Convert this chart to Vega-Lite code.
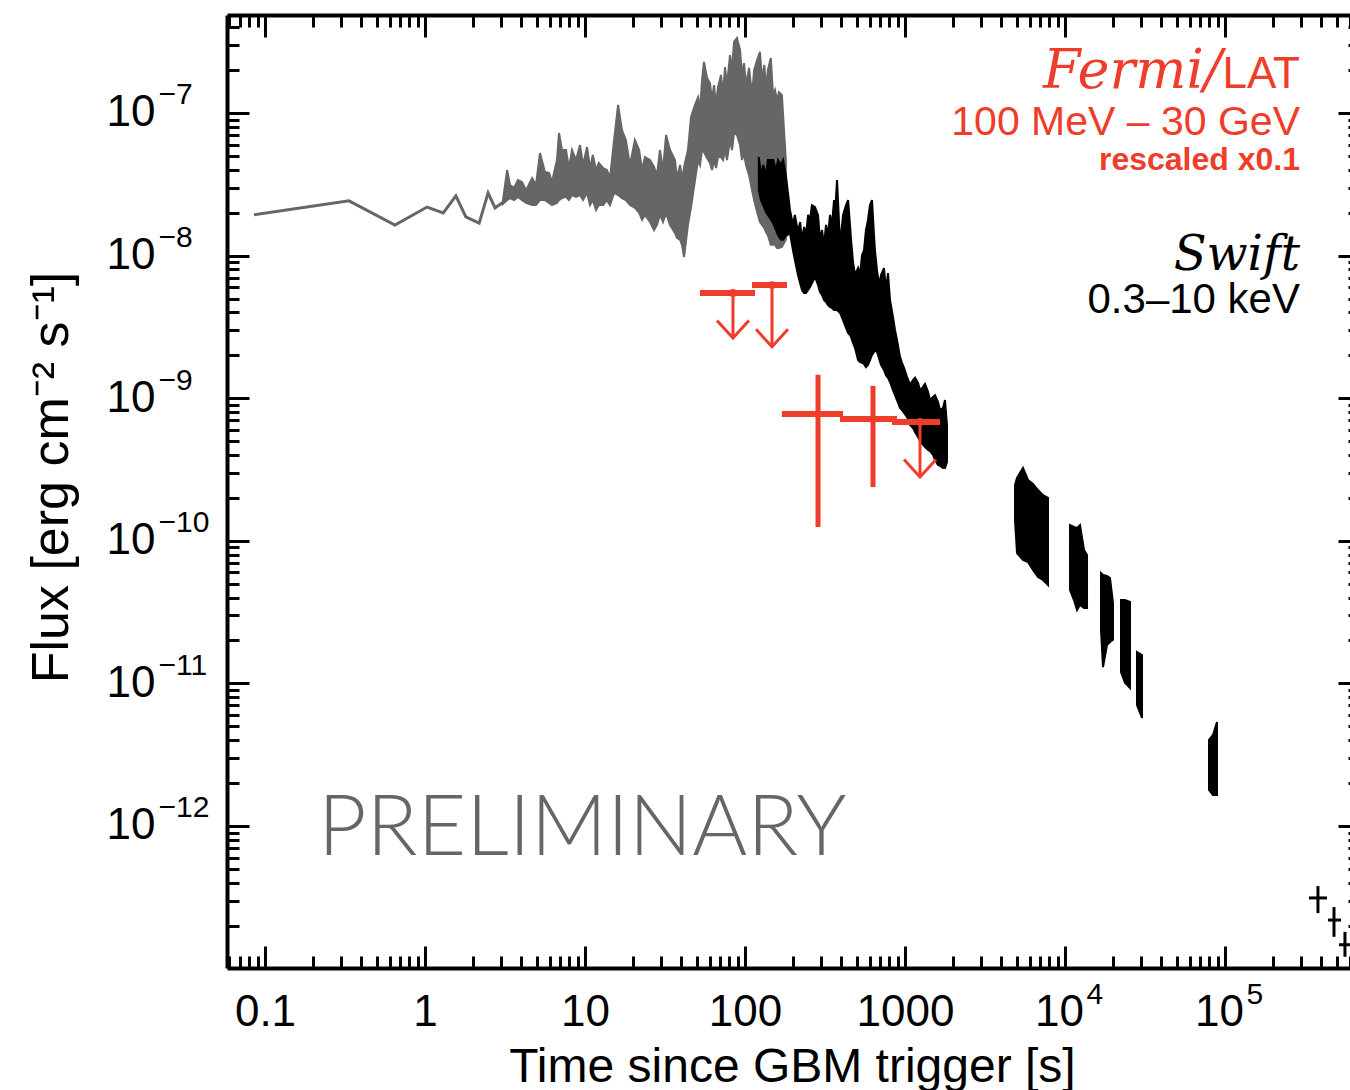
{
  "$schema": "https://vega.github.io/schema/vega-lite/v6.json",
  "width": 1123,
  "height": 953,
  "autosize": {"type": "none"},
  "padding": {"left": 227, "top": 15, "right": 0, "bottom": 122},
  "background": "white",
  "config": {
    "view": {"stroke": null},
    "axis": {
      "grid": false,
      "labelFont": "Liberation Sans",
      "titleFont": "Liberation Sans",
      "labelColor": "black",
      "titleColor": "black",
      "tickColor": "black",
      "domainColor": "black",
      "labelOverlap": false,
      "labelFlush": false,
      "labelBound": false
    }
  },
  "resolve": {"axis": {"x": "independent", "y": "independent"}},
  "datasets": {
    "early": [
      {"t": 0.0853, "flux": 1.93e-8},
      {"t": 0.335, "flux": 2.42e-8},
      {"t": 0.649, "flux": 1.64e-8},
      {"t": 1.03, "flux": 2.19e-8},
      {"t": 1.30, "flux": 1.99e-8},
      {"t": 1.56, "flux": 2.62e-8},
      {"t": 1.80, "flux": 1.87e-8},
      {"t": 2.18, "flux": 1.69e-8},
      {"t": 2.48, "flux": 2.75e-8},
      {"t": 2.74, "flux": 2.16e-8},
      {"t": 3.21, "flux": 2.45e-8}
    ],
    "bat": [
      {"t": 3.07, "hi": 2.45e-8, "lo": 2.30e-8},
      {"t": 3.26, "hi": 3.98e-8, "lo": 2.45e-8},
      {"t": 3.40, "hi": 3.13e-8, "lo": 2.53e-8},
      {"t": 3.60, "hi": 2.98e-8, "lo": 2.45e-8},
      {"t": 3.81, "hi": 3.39e-8, "lo": 2.58e-8},
      {"t": 4.04, "hi": 3.28e-8, "lo": 2.45e-8},
      {"t": 4.28, "hi": 2.88e-8, "lo": 2.34e-8},
      {"t": 4.67, "hi": 3.50e-8, "lo": 2.26e-8},
      {"t": 4.94, "hi": 3.13e-8, "lo": 2.26e-8},
      {"t": 5.23, "hi": 5.24e-8, "lo": 2.45e-8},
      {"t": 5.62, "hi": 3.86e-8, "lo": 2.45e-8},
      {"t": 5.96, "hi": 3.80e-8, "lo": 2.34e-8},
      {"t": 6.22, "hi": 3.28e-8, "lo": 2.26e-8},
      {"t": 6.68, "hi": 4.68e-8, "lo": 2.34e-8},
      {"t": 6.88, "hi": 7.24e-8, "lo": 2.45e-8},
      {"t": 7.18, "hi": 5.50e-8, "lo": 2.53e-8},
      {"t": 7.61, "hi": 5.50e-8, "lo": 2.58e-8},
      {"t": 7.94, "hi": 4.11e-8, "lo": 2.45e-8},
      {"t": 8.29, "hi": 5.50e-8, "lo": 2.66e-8},
      {"t": 8.79, "hi": 4.68e-8, "lo": 2.58e-8},
      {"t": 9.31, "hi": 5.96e-8, "lo": 2.66e-8},
      {"t": 9.72, "hi": 4.32e-8, "lo": 2.45e-8},
      {"t": 10.3, "hi": 5.77e-8, "lo": 2.75e-8},
      {"t": 10.75, "hi": 4.11e-8, "lo": 2.26e-8},
      {"t": 11.2, "hi": 5.07e-8, "lo": 2.45e-8},
      {"t": 11.72, "hi": 3.98e-8, "lo": 2.09e-8},
      {"t": 12.2, "hi": 4.46e-8, "lo": 2.26e-8},
      {"t": 13.0, "hi": 4.11e-8, "lo": 2.26e-8},
      {"t": 13.7, "hi": 3.98e-8, "lo": 2.45e-8},
      {"t": 14.33, "hi": 3.50e-8, "lo": 2.26e-8},
      {"t": 15.2, "hi": 6.47e-8, "lo": 2.75e-8},
      {"t": 16.1, "hi": 1.14e-7, "lo": 2.66e-8},
      {"t": 17.0, "hi": 7.60e-8, "lo": 2.53e-8},
      {"t": 18.0, "hi": 6.47e-8, "lo": 2.45e-8},
      {"t": 19.11, "hi": 4.32e-8, "lo": 2.26e-8},
      {"t": 20.5, "hi": 6.47e-8, "lo": 2.16e-8},
      {"t": 21.8, "hi": 5.50e-8, "lo": 1.99e-8},
      {"t": 22.72, "hi": 3.98e-8, "lo": 1.78e-8},
      {"t": 23.7, "hi": 4.91e-8, "lo": 1.93e-8},
      {"t": 25.5, "hi": 4.68e-8, "lo": 1.72e-8},
      {"t": 27.0, "hi": 4.18e-8, "lo": 1.51e-8},
      {"t": 28.18, "hi": 3.67e-8, "lo": 1.64e-8},
      {"t": 29.4, "hi": 5.50e-8, "lo": 1.93e-8},
      {"t": 30.73, "hi": 3.98e-8, "lo": 1.72e-8},
      {"t": 32.1, "hi": 7.01e-8, "lo": 1.99e-8},
      {"t": 34.0, "hi": 5.50e-8, "lo": 1.64e-8},
      {"t": 36.5, "hi": 4.68e-8, "lo": 1.44e-8},
      {"t": 37.58, "hi": 3.50e-8, "lo": 1.33e-8},
      {"t": 39.3, "hi": 4.32e-8, "lo": 1.29e-8},
      {"t": 40.39, "hi": 3.39e-8, "lo": 1.19e-8},
      {"t": 41.6, "hi": 4.18e-8, "lo": 9.78e-9},
      {"t": 44.0, "hi": 5.50e-8, "lo": 1.64e-8},
      {"t": 46.0, "hi": 9.38e-8, "lo": 2.19e-8},
      {"t": 48.7, "hi": 1.14e-7, "lo": 3.39e-8},
      {"t": 50.9, "hi": 1.29e-7, "lo": 4.68e-8},
      {"t": 52.33, "hi": 1.05e-7, "lo": 4.32e-8},
      {"t": 53.9, "hi": 1.70e-7, "lo": 5.50e-8},
      {"t": 55.4, "hi": 2.28e-7, "lo": 5.33e-8},
      {"t": 57.9, "hi": 1.76e-7, "lo": 4.83e-8},
      {"t": 60.4, "hi": 1.62e-7, "lo": 4.46e-8},
      {"t": 62.21, "hi": 1.23e-7, "lo": 3.98e-8},
      {"t": 64.0, "hi": 1.57e-7, "lo": 4.68e-8},
      {"t": 65.9, "hi": 1.14e-7, "lo": 4.11e-8},
      {"t": 67.8, "hi": 1.52e-7, "lo": 4.91e-8},
      {"t": 70.8, "hi": 1.85e-7, "lo": 4.91e-8},
      {"t": 72.86, "hi": 1.34e-7, "lo": 4.68e-8},
      {"t": 75.0, "hi": 2.10e-7, "lo": 5.50e-8},
      {"t": 77.2, "hi": 1.57e-7, "lo": 4.68e-8},
      {"t": 80.6, "hi": 2.55e-7, "lo": 6.47e-8},
      {"t": 82.94, "hi": 2.00e-7, "lo": 5.50e-8},
      {"t": 85.4, "hi": 3.15e-7, "lo": 7.24e-8},
      {"t": 89.1, "hi": 3.36e-7, "lo": 7.01e-8},
      {"t": 93.1, "hi": 2.77e-7, "lo": 5.96e-8},
      {"t": 95.78, "hi": 1.85e-7, "lo": 4.68e-8},
      {"t": 98.6, "hi": 2.24e-7, "lo": 5.24e-8},
      {"t": 101.4, "hi": 1.57e-7, "lo": 4.32e-8},
      {"t": 106, "hi": 2.07e-7, "lo": 3.67e-8},
      {"t": 110.6, "hi": 1.34e-7, "lo": 2.88e-8},
      {"t": 114, "hi": 2.00e-7, "lo": 2.45e-8},
      {"t": 119, "hi": 2.35e-7, "lo": 2.02e-8},
      {"t": 124, "hi": 2.68e-7, "lo": 1.72e-8},
      {"t": 127.7, "hi": 1.70e-7, "lo": 1.64e-8},
      {"t": 132, "hi": 2.17e-7, "lo": 1.56e-8},
      {"t": 135.3, "hi": 1.50e-7, "lo": 1.46e-8},
      {"t": 139, "hi": 2.00e-7, "lo": 1.39e-8},
      {"t": 145, "hi": 2.43e-7, "lo": 1.19e-8},
      {"t": 149.6, "hi": 1.34e-7, "lo": 1.19e-8},
      {"t": 154, "hi": 1.45e-7, "lo": 1.19e-8},
      {"t": 158.5, "hi": 1.23e-7, "lo": 1.13e-8},
      {"t": 163, "hi": 1.40e-7, "lo": 1.13e-8},
      {"t": 170, "hi": 1.34e-7, "lo": 1.15e-8},
      {"t": 180, "hi": 4.68e-8, "lo": 1.29e-8}
    ],
    "xrt": [
      {"seg": "a", "t": 122, "hi": 4.91e-8, "lo": 2.88e-8},
      {"seg": "a", "t": 125.9, "hi": 3.67e-8, "lo": 2.45e-8},
      {"seg": "a", "t": 130, "hi": 4.32e-8, "lo": 2.26e-8},
      {"seg": "a", "t": 135.3, "hi": 3.67e-8, "lo": 2.02e-8},
      {"seg": "a", "t": 139, "hi": 4.68e-8, "lo": 1.93e-8},
      {"seg": "a", "t": 150, "hi": 4.68e-8, "lo": 1.69e-8},
      {"seg": "a", "t": 156.2, "hi": 3.98e-8, "lo": 1.51e-8},
      {"seg": "a", "t": 161, "hi": 4.68e-8, "lo": 1.39e-8},
      {"seg": "a", "t": 167.9, "hi": 4.32e-8, "lo": 1.29e-8},
      {"seg": "a", "t": 173, "hi": 4.68e-8, "lo": 1.29e-8},
      {"seg": "a", "t": 180, "hi": 3.67e-8, "lo": 1.37e-8},
      {"seg": "a", "t": 191, "hi": 2.09e-8, "lo": 1.44e-8},
      {"seg": "a", "t": 199.5, "hi": 1.64e-8, "lo": 1.09e-8},
      {"seg": "a", "t": 205, "hi": 1.93e-8, "lo": 9.31e-9},
      {"seg": "a", "t": 214.5, "hi": 1.46e-8, "lo": 7.31e-9},
      {"seg": "a", "t": 221, "hi": 1.72e-8, "lo": 6.42e-9},
      {"seg": "a", "t": 227.2, "hi": 1.29e-8, "lo": 5.74e-9},
      {"seg": "a", "t": 234, "hi": 1.59e-8, "lo": 5.47e-9},
      {"seg": "a", "t": 240.6, "hi": 1.39e-8, "lo": 5.47e-9},
      {"seg": "a", "t": 248, "hi": 1.93e-8, "lo": 5.74e-9},
      {"seg": "a", "t": 254.9, "hi": 1.78e-8, "lo": 6.02e-9},
      {"seg": "a", "t": 262, "hi": 2.26e-8, "lo": 6.42e-9},
      {"seg": "a", "t": 274, "hi": 2.19e-8, "lo": 7.08e-9},
      {"seg": "a", "t": 286, "hi": 1.93e-8, "lo": 6.22e-9},
      {"seg": "a", "t": 294.3, "hi": 1.29e-8, "lo": 5.55e-9},
      {"seg": "a", "t": 303, "hi": 1.51e-8, "lo": 5.29e-9},
      {"seg": "a", "t": 311.7, "hi": 1.19e-8, "lo": 4.88e-9},
      {"seg": "a", "t": 321, "hi": 1.64e-8, "lo": 4.73e-9},
      {"seg": "a", "t": 330.2, "hi": 1.39e-8, "lo": 4.50e-9},
      {"seg": "a", "t": 340, "hi": 1.93e-8, "lo": 4.36e-9},
      {"seg": "a", "t": 349.8, "hi": 1.64e-8, "lo": 4.29e-9},
      {"seg": "a", "t": 360, "hi": 2.45e-8, "lo": 4.15e-9},
      {"seg": "a", "t": 365.2, "hi": 1.93e-8, "lo": 4.15e-9},
      {"seg": "a", "t": 376, "hi": 3.39e-8, "lo": 4.15e-9},
      {"seg": "a", "t": 393, "hi": 1.19e-8, "lo": 3.96e-9},
      {"seg": "a", "t": 410, "hi": 1.93e-8, "lo": 3.53e-9},
      {"seg": "a", "t": 428, "hi": 2.26e-8, "lo": 3.11e-9},
      {"seg": "a", "t": 441, "hi": 2.45e-8, "lo": 2.87e-9},
      {"seg": "a", "t": 453.2, "hi": 1.64e-8, "lo": 2.77e-9},
      {"seg": "a", "t": 460, "hi": 1.29e-8, "lo": 2.69e-9},
      {"seg": "a", "t": 473.2, "hi": 9.02e-9, "lo": 2.44e-9},
      {"seg": "a", "t": 487, "hi": 7.31e-9, "lo": 2.25e-9},
      {"seg": "a", "t": 509, "hi": 8.18e-9, "lo": 1.85e-9},
      {"seg": "a", "t": 523.2, "hi": 7.31e-9, "lo": 1.79e-9},
      {"seg": "a", "t": 539, "hi": 1.01e-8, "lo": 1.77e-9},
      {"seg": "a", "t": 554.2, "hi": 1.09e-8, "lo": 1.74e-9},
      {"seg": "a", "t": 570, "hi": 1.51e-8, "lo": 1.65e-9},
      {"seg": "a", "t": 587.1, "hi": 1.78e-8, "lo": 1.71e-9},
      {"seg": "a", "t": 604, "hi": 2.26e-8, "lo": 1.85e-9},
      {"seg": "a", "t": 622, "hi": 2.45e-8, "lo": 2.01e-9},
      {"seg": "a", "t": 640.1, "hi": 1.39e-8, "lo": 2.11e-9},
      {"seg": "a", "t": 649, "hi": 1.09e-8, "lo": 2.18e-9},
      {"seg": "a", "t": 668, "hi": 7.92e-9, "lo": 2.11e-9},
      {"seg": "a", "t": 687.9, "hi": 6.22e-9, "lo": 1.91e-9},
      {"seg": "a", "t": 708, "hi": 7.31e-9, "lo": 1.71e-9},
      {"seg": "a", "t": 739, "hi": 8.18e-9, "lo": 1.58e-9},
      {"seg": "a", "t": 760.9, "hi": 5.74e-9, "lo": 1.45e-9},
      {"seg": "a", "t": 783, "hi": 7.55e-9, "lo": 1.39e-9},
      {"seg": "a", "t": 806, "hi": 4.88e-9, "lo": 1.30e-9},
      {"seg": "a", "t": 841, "hi": 3.71e-9, "lo": 1.14e-9},
      {"seg": "a", "t": 865.9, "hi": 3.01e-9, "lo": 1.05e-9},
      {"seg": "a", "t": 891, "hi": 2.56e-9, "lo": 9.71e-10},
      {"seg": "a", "t": 931, "hi": 1.94e-9, "lo": 8.53e-10},
      {"seg": "a", "t": 957.8, "hi": 1.77e-9, "lo": 8.26e-10},
      {"seg": "a", "t": 986, "hi": 1.63e-9, "lo": 7.87e-10},
      {"seg": "a", "t": 1029, "hi": 1.41e-9, "lo": 7.38e-10},
      {"seg": "a", "t": 1075, "hi": 1.24e-9, "lo": 6.49e-10},
      {"seg": "a", "t": 1122, "hi": 1.34e-9, "lo": 6.18e-10},
      {"seg": "a", "t": 1155, "hi": 1.39e-9, "lo": 5.79e-10},
      {"seg": "a", "t": 1206, "hi": 1.28e-9, "lo": 5.34e-10},
      {"seg": "a", "t": 1241, "hi": 1.14e-9, "lo": 5.01e-10},
      {"seg": "a", "t": 1296, "hi": 1.20e-9, "lo": 4.70e-10},
      {"seg": "a", "t": 1334, "hi": 1.26e-9, "lo": 4.55e-10},
      {"seg": "a", "t": 1393, "hi": 1.11e-9, "lo": 4.33e-10},
      {"seg": "a", "t": 1433, "hi": 9.71e-10, "lo": 4.26e-10},
      {"seg": "a", "t": 1496, "hi": 1.02e-9, "lo": 4.00e-10},
      {"seg": "a", "t": 1540, "hi": 1.05e-9, "lo": 3.69e-10},
      {"seg": "a", "t": 1608, "hi": 9.40e-10, "lo": 3.40e-10},
      {"seg": "a", "t": 1655, "hi": 8.26e-10, "lo": 3.35e-10},
      {"seg": "a", "t": 1728, "hi": 8.53e-10, "lo": 3.24e-10},
      {"seg": "a", "t": 1778, "hi": 9.71e-10, "lo": 3.24e-10},
      {"seg": "a", "t": 1830, "hi": 6.49e-10, "lo": 3.57e-10},
      {"seg": "b", "t": 4870, "hi": 2.46e-10, "lo": 1.40e-10},
      {"seg": "b", "t": 5012, "hi": 2.76e-10, "lo": 8.21e-11},
      {"seg": "b", "t": 5464, "hi": 3.24e-10, "lo": 7.33e-11},
      {"seg": "b", "t": 5872, "hi": 2.67e-10, "lo": 7.10e-11},
      {"seg": "b", "t": 6310, "hi": 2.50e-10, "lo": 6.24e-11},
      {"seg": "b", "t": 6780, "hi": 2.27e-10, "lo": 5.57e-11},
      {"seg": "b", "t": 7286, "hi": 2.09e-10, "lo": 5.31e-11},
      {"seg": "b", "t": 7830, "hi": 2.00e-10, "lo": 4.90e-11},
      {"seg": "c", "t": 10750, "hi": 1.29e-10, "lo": 4.52e-11},
      {"seg": "c", "t": 11380, "hi": 1.25e-10, "lo": 3.84e-11},
      {"seg": "c", "t": 11890, "hi": 1.23e-10, "lo": 3.27e-11},
      {"seg": "c", "t": 12410, "hi": 1.29e-10, "lo": 3.55e-11},
      {"seg": "c", "t": 13150, "hi": 8.62e-11, "lo": 3.38e-11},
      {"seg": "c", "t": 13730, "hi": 7.95e-11, "lo": 3.38e-11},
      {"seg": "d", "t": 16790, "hi": 5.94e-11, "lo": 2.37e-11},
      {"seg": "d", "t": 17280, "hi": 5.76e-11, "lo": 1.30e-11},
      {"seg": "d", "t": 18300, "hi": 5.66e-11, "lo": 1.86e-11},
      {"seg": "d", "t": 19110, "hi": 5.48e-11, "lo": 1.95e-11},
      {"seg": "d", "t": 19950, "hi": 3.66e-11, "lo": 2.02e-11},
      {"seg": "e", "t": 22390, "hi": 3.84e-11, "lo": 1.20e-11},
      {"seg": "e", "t": 23710, "hi": 3.84e-11, "lo": 1.01e-11},
      {"seg": "e", "t": 25480, "hi": 3.72e-11, "lo": 9.28e-12},
      {"seg": "f", "t": 28180, "hi": 1.66e-11, "lo": 7.05e-12},
      {"seg": "f", "t": 30290, "hi": 1.58e-11, "lo": 5.72e-12},
      {"seg": "g", "t": 79430, "hi": 4.01e-12, "lo": 1.79e-12},
      {"seg": "g", "t": 84140, "hi": 4.35e-12, "lo": 1.65e-12},
      {"seg": "g", "t": 89130, "hi": 5.36e-12, "lo": 1.65e-12}
    ],
    "xrtLate": [
      {"t": 381000, "tlo": 335000, "thi": 434000, "flux": 3.13e-13, "flo": 2.45e-13, "fhi": 3.79e-13},
      {"t": 480000, "tlo": 440000, "thi": 531000, "flux": 2.19e-13, "flo": 1.67e-13, "fhi": 2.70e-13},
      {"t": 562000, "tlo": 516000, "thi": 604000, "flux": 1.47e-13, "flo": 1.21e-13, "fhi": 1.81e-13}
    ],
    "lat": [
      {"kind": "ul", "t": 84.1, "tlo": 52.3, "thi": 115.5, "flux": 5.47e-9, "tip": 2.64e-9},
      {"kind": "ul", "t": 147.5, "tlo": 110.6, "thi": 183, "flux": 6.22e-9, "tip": 2.29e-9},
      {"kind": "det", "t": 286, "tlo": 170, "thi": 410, "flux": 7.75e-10, "flo": 1.25e-10, "fhi": 1.46e-9},
      {"kind": "det", "t": 631, "tlo": 392, "thi": 891, "flux": 7.15e-10, "flo": 2.38e-10, "fhi": 1.22e-9},
      {"kind": "ul", "t": 1241, "tlo": 829, "thi": 1655, "flux": 6.81e-10, "tip": 2.80e-10}
    ]
  },
  "layer": [
    {
      "data": {"name": "early"},
      "mark": {"type": "line", "color": "#666666", "strokeWidth": 3},
      "encoding": {
        "x": {"field": "t", "type": "quantitative", "scale": {"type": "log", "domain": [0.05788, 604300], "nice": false},
          "axis": {"orient": "bottom", "values": [0.1, 1, 10, 100, 1000, 10000, 100000], "labels": false, "title": null, "tickSize": -22, "tickWidth": 3, "domain": true, "domainWidth": 4}},
        "y": {"field": "flux", "type": "quantitative", "scale": {"type": "log", "domain": [1.0097e-13, 4.866e-7], "nice": false},
          "axis": {"orient": "left", "values": [1e-12, 1e-11, 1e-10, 1e-9, 1e-8, 1e-7], "labels": false, "title": null, "tickSize": -22, "tickWidth": 3, "domain": true, "domainWidth": 4}}
      }
    },
    {
      "data": {"name": "bat"},
      "mark": {"type": "area", "orient": "vertical", "color": "#666666", "stroke": "#666666", "strokeWidth": 2},
      "encoding": {
        "x": {"field": "t", "type": "quantitative", "scale": {"type": "log", "domain": [0.05788, 604300], "nice": false},
          "axis": {"orient": "bottom", "values": [0.06, 0.07, 0.08, 0.09, 0.2, 0.3, 0.4, 0.5, 0.6, 0.7, 0.8, 0.9, 2, 3, 4, 5, 6, 7, 8, 9, 20, 30, 40, 50, 60, 70, 80, 90, 200, 300, 400, 500, 600, 700, 800, 900, 2000, 3000, 4000, 5000, 6000, 7000, 8000, 9000, 20000, 30000, 40000, 50000, 60000, 70000, 80000, 90000, 200000, 300000, 400000, 500000, 600000], "labels": false, "title": null, "tickSize": -12, "tickWidth": 3, "domain": false}},
        "y": {"field": "hi", "type": "quantitative", "stack": null, "scale": {"type": "log", "domain": [1.0097e-13, 4.866e-7], "nice": false},
          "axis": {"orient": "left", "values": [2e-13, 3e-13, 4e-13, 5e-13, 6e-13, 7e-13, 8e-13, 9e-13, 2e-12, 3e-12, 4e-12, 5e-12, 6e-12, 7e-12, 8e-12, 9e-12, 2e-11, 3e-11, 4e-11, 5e-11, 6e-11, 7e-11, 8e-11, 9e-11, 2e-10, 3e-10, 4e-10, 5e-10, 6e-10, 7e-10, 8e-10, 9e-10, 2e-9, 3e-9, 4e-9, 5e-9, 6e-9, 7e-9, 8e-9, 9e-9, 2e-8, 3e-8, 4e-8, 5e-8, 6e-8, 7e-8, 8e-8, 9e-8, 2e-7, 3e-7, 4e-7], "labels": false, "title": null, "tickSize": -12, "tickWidth": 3, "domain": false}},
        "y2": {"field": "lo"}
      }
    },
    {
      "data": {"name": "xrt"},
      "mark": {"type": "area", "orient": "vertical", "color": "black", "stroke": "black", "strokeWidth": 2},
      "encoding": {
        "x": {"field": "t", "type": "quantitative", "scale": {"type": "log", "domain": [0.05788, 604300], "nice": false},
          "axis": {"orient": "top", "values": [0.1, 1, 10, 100, 1000, 10000, 100000], "labels": false, "title": null, "tickSize": -22, "tickWidth": 3, "domain": true, "domainWidth": 4}},
        "y": {"field": "hi", "type": "quantitative", "stack": null, "scale": {"type": "log", "domain": [1.0097e-13, 4.866e-7], "nice": false},
          "axis": {"orient": "right", "offset": 10, "values": [1e-12, 1e-11, 1e-10, 1e-9, 1e-8, 1e-7], "labels": false, "title": null, "tickSize": -22, "tickWidth": 3, "domain": true, "domainWidth": 4}},
        "y2": {"field": "lo"},
        "detail": {"field": "seg"}
      }
    },
    {
      "data": {"name": "xrtLate"},
      "mark": {"type": "rule", "color": "black", "strokeWidth": 3},
      "encoding": {
        "x": {"field": "t", "type": "quantitative", "scale": {"type": "log", "domain": [0.05788, 604300], "nice": false},
          "axis": {"orient": "top", "values": [0.06, 0.07, 0.08, 0.09, 0.2, 0.3, 0.4, 0.5, 0.6, 0.7, 0.8, 0.9, 2, 3, 4, 5, 6, 7, 8, 9, 20, 30, 40, 50, 60, 70, 80, 90, 200, 300, 400, 500, 600, 700, 800, 900, 2000, 3000, 4000, 5000, 6000, 7000, 8000, 9000, 20000, 30000, 40000, 50000, 60000, 70000, 80000, 90000, 200000, 300000, 400000, 500000, 600000], "labels": false, "title": null, "tickSize": -12, "tickWidth": 3, "domain": false}},
        "y": {"field": "flo", "type": "quantitative", "scale": {"type": "log", "domain": [1.0097e-13, 4.866e-7], "nice": false},
          "axis": {"orient": "right", "offset": 10, "values": [2e-13, 3e-13, 4e-13, 5e-13, 6e-13, 7e-13, 8e-13, 9e-13, 2e-12, 3e-12, 4e-12, 5e-12, 6e-12, 7e-12, 8e-12, 9e-12, 2e-11, 3e-11, 4e-11, 5e-11, 6e-11, 7e-11, 8e-11, 9e-11, 2e-10, 3e-10, 4e-10, 5e-10, 6e-10, 7e-10, 8e-10, 9e-10, 2e-9, 3e-9, 4e-9, 5e-9, 6e-9, 7e-9, 8e-9, 9e-9, 2e-8, 3e-8, 4e-8, 5e-8, 6e-8, 7e-8, 8e-8, 9e-8, 2e-7, 3e-7, 4e-7], "labels": false, "title": null, "tickSize": -12, "tickWidth": 3, "domain": false}},
        "y2": {"field": "fhi"}
      }
    },
    {
      "data": {"name": "xrtLate"},
      "mark": {"type": "rule", "color": "black", "strokeWidth": 3},
      "encoding": {
        "x": {"field": "tlo", "type": "quantitative", "scale": {"type": "log", "domain": [0.05788, 604300], "nice": false},
          "axis": {"orient": "bottom", "values": [0.1, 1, 10, 100, 1000], "ticks": false, "domain": false,
            "labelExpr": "datum.value < 0.5 ? '0.1' : format(datum.value, 'd')",
            "labelFontSize": 44, "labelPadding": 57, "labelBaseline": "alphabetic",
            "title": "Time since GBM trigger [s]", "titleFontSize": 48, "titleFontWeight": "normal",
            "titleX": 565, "titleY": 113, "titleBaseline": "alphabetic", "titleAlign": "center"}},
        "x2": {"field": "thi"},
        "y": {"field": "flux", "type": "quantitative", "scale": {"type": "log", "domain": [1.0097e-13, 4.866e-7], "nice": false},
          "axis": {"orient": "left", "values": [1e-12, 1e-11, 1e-10, 1e-9, 1e-8, 1e-7], "ticks": false, "domain": false,
            "labelExpr": "'10'", "labelFontSize": 44, "labelPadding": 72, "labelBaseline": "middle", "labelAlign": "right",
            "title": "Flux [erg cm⁻² s⁻¹]", "titleFontSize": 52, "titleFontWeight": "normal",
            "titleX": -160, "titleY": 462, "titleAngle": 270, "titleBaseline": "alphabetic", "titleAlign": "center"}}
      }
    },
    {
      "data": {"name": "lat"},
      "mark": {"type": "rule", "color": "#ee3d2a", "strokeWidth": 6},
      "encoding": {
        "x": {"field": "tlo", "type": "quantitative", "scale": {"type": "log", "domain": [0.05788, 604300], "nice": false},
          "axis": {"orient": "bottom", "values": [10000, 100000], "ticks": false, "domain": false,
            "labelExpr": "'10'", "labelFontSize": 44, "labelPadding": 57, "labelBaseline": "alphabetic", "labelOffset": -6, "title": null}},
        "x2": {"field": "thi"},
        "y": {"field": "flux", "type": "quantitative", "scale": {"type": "log", "domain": [1.0097e-13, 4.866e-7], "nice": false},
          "axis": {"orient": "left", "values": [1e-12, 1e-11, 1e-10, 1e-9, 1e-8, 1e-7], "ticks": false, "domain": false,
            "labelExpr": "'−' + round(-log(datum.value) / LN10)", "labelFontSize": 30, "labelPadding": 69,
            "labelBaseline": "alphabetic", "labelAlign": "left", "labelOffset": -9, "title": null}}
      }
    },
    {
      "data": {"name": "lat"},
      "transform": [{"filter": "datum.kind === 'det'"}],
      "mark": {"type": "rule", "color": "#ee3d2a", "strokeWidth": 5},
      "encoding": {
        "x": {"field": "t", "type": "quantitative", "scale": {"type": "log", "domain": [0.05788, 604300], "nice": false},
          "axis": {"orient": "bottom", "values": [10000, 100000], "ticks": false, "domain": false,
            "labelExpr": "datum.value > 50000 ? '5' : '4'", "labelFontSize": 30, "labelPadding": 35,
            "labelBaseline": "alphabetic", "labelAlign": "left", "labelOffset": 21, "title": null}},
        "y": {"field": "flo", "type": "quantitative", "scale": {"type": "log", "domain": [1.0097e-13, 4.866e-7], "nice": false}, "axis": null},
        "y2": {"field": "fhi"}
      }
    },
    {
      "data": {"name": "lat"},
      "transform": [{"filter": "datum.kind === 'ul'"}],
      "mark": {"type": "rule", "color": "#ee3d2a", "strokeWidth": 3},
      "encoding": {
        "x": {"field": "t", "type": "quantitative", "scale": {"type": "log", "domain": [0.05788, 604300], "nice": false}, "axis": null},
        "y": {"field": "flux", "type": "quantitative", "scale": {"type": "log", "domain": [1.0097e-13, 4.866e-7], "nice": false}, "axis": null},
        "y2": {"field": "tip"}
      }
    },
    {
      "data": {"name": "lat"},
      "transform": [{"filter": "datum.kind === 'ul'"}],
      "mark": {"type": "point", "shape": "M-1,-1.1L0,0L1,-1.1", "size": 1024, "filled": false, "stroke": "#ee3d2a", "strokeWidth": 3, "opacity": 1},
      "encoding": {
        "x": {"field": "t", "type": "quantitative", "scale": {"type": "log", "domain": [0.05788, 604300], "nice": false}, "axis": null},
        "y": {"field": "tip", "type": "quantitative", "scale": {"type": "log", "domain": [1.0097e-13, 4.866e-7], "nice": false}, "axis": null}
      }
    },
    {
      "data": {"name": "lat"},
      "mark": {"type": "point", "shape": "circle", "size": 60, "filled": true, "color": "#ee3d2a", "opacity": 1},
      "encoding": {
        "x": {"field": "t", "type": "quantitative", "scale": {"type": "log", "domain": [0.05788, 604300], "nice": false}, "axis": null},
        "y": {"field": "flux", "type": "quantitative", "scale": {"type": "log", "domain": [1.0097e-13, 4.866e-7], "nice": false}, "axis": null}
      }
    },
    {
      "data": {"values": [{}]},
      "mark": {"type": "text", "text": "Fermi/", "font": "DejaVu Serif", "fontStyle": "italic", "fontSize": 54, "color": "#ee3d2a", "align": "right", "baseline": "alphabetic"},
      "encoding": {
        "x": {"datum": 95780, "type": "quantitative", "scale": {"type": "log", "domain": [0.05788, 604300], "nice": false}, "axis": null},
        "y": {"datum": 1.50e-7, "type": "quantitative", "scale": {"type": "log", "domain": [1.0097e-13, 4.866e-7], "nice": false}, "axis": null}
      }
    },
    {
      "data": {"values": [{}]},
      "mark": {"type": "text", "text": "LAT", "font": "Liberation Sans", "fontSize": 44, "color": "#ee3d2a", "align": "right", "baseline": "alphabetic"},
      "encoding": {
        "x": {"datum": 294300, "type": "quantitative", "scale": {"type": "log", "domain": [0.05788, 604300], "nice": false}, "axis": null},
        "y": {"datum": 1.50e-7, "type": "quantitative", "scale": {"type": "log", "domain": [1.0097e-13, 4.866e-7], "nice": false}, "axis": null}
      }
    },
    {
      "data": {"values": [{}]},
      "mark": {"type": "text", "text": "100 MeV – 30 GeV", "font": "Liberation Sans", "fontSize": 41, "color": "#ee3d2a", "align": "right", "baseline": "alphabetic"},
      "encoding": {
        "x": {"datum": 294300, "type": "quantitative", "scale": {"type": "log", "domain": [0.05788, 604300], "nice": false}, "axis": null},
        "y": {"datum": 7.01e-8, "type": "quantitative", "scale": {"type": "log", "domain": [1.0097e-13, 4.866e-7], "nice": false}, "axis": null}
      }
    },
    {
      "data": {"values": [{}]},
      "mark": {"type": "text", "text": "rescaled x0.1", "font": "Liberation Sans", "fontWeight": "bold", "fontSize": 32, "color": "#ee3d2a", "align": "right", "baseline": "alphabetic"},
      "encoding": {
        "x": {"datum": 294300, "type": "quantitative", "scale": {"type": "log", "domain": [0.05788, 604300], "nice": false}, "axis": null},
        "y": {"datum": 3.98e-8, "type": "quantitative", "scale": {"type": "log", "domain": [1.0097e-13, 4.866e-7], "nice": false}, "axis": null}
      }
    },
    {
      "data": {"values": [{}]},
      "mark": {"type": "text", "text": "Swift", "font": "DejaVu Serif", "fontStyle": "italic", "fontSize": 48, "color": "black", "align": "right", "baseline": "alphabetic"},
      "encoding": {
        "x": {"datum": 294300, "type": "quantitative", "scale": {"type": "log", "domain": [0.05788, 604300], "nice": false}, "axis": null},
        "y": {"datum": 7.92e-9, "type": "quantitative", "scale": {"type": "log", "domain": [1.0097e-13, 4.866e-7], "nice": false}, "axis": null}
      }
    },
    {
      "data": {"values": [{}]},
      "mark": {"type": "text", "text": "0.3–10 keV", "font": "Liberation Sans", "fontSize": 42, "color": "black", "align": "right", "baseline": "alphabetic"},
      "encoding": {
        "x": {"datum": 294300, "type": "quantitative", "scale": {"type": "log", "domain": [0.05788, 604300], "nice": false}, "axis": null},
        "y": {"datum": 3.96e-9, "type": "quantitative", "scale": {"type": "log", "domain": [1.0097e-13, 4.866e-7], "nice": false}, "axis": null}
      }
    },
    {
      "data": {"values": [{}]},
      "mark": {"type": "text", "text": "PRELIMINARY", "font": "Lato", "fontWeight": 300, "fontSize": 84, "color": "#666666", "align": "left", "baseline": "alphabetic"},
      "encoding": {
        "x": {"datum": 0.2144, "type": "quantitative", "scale": {"type": "log", "domain": [0.05788, 604300], "nice": false}, "axis": null},
        "y": {"datum": 6.26e-13, "type": "quantitative", "scale": {"type": "log", "domain": [1.0097e-13, 4.866e-7], "nice": false}, "axis": null}
      }
    }
  ]
}
